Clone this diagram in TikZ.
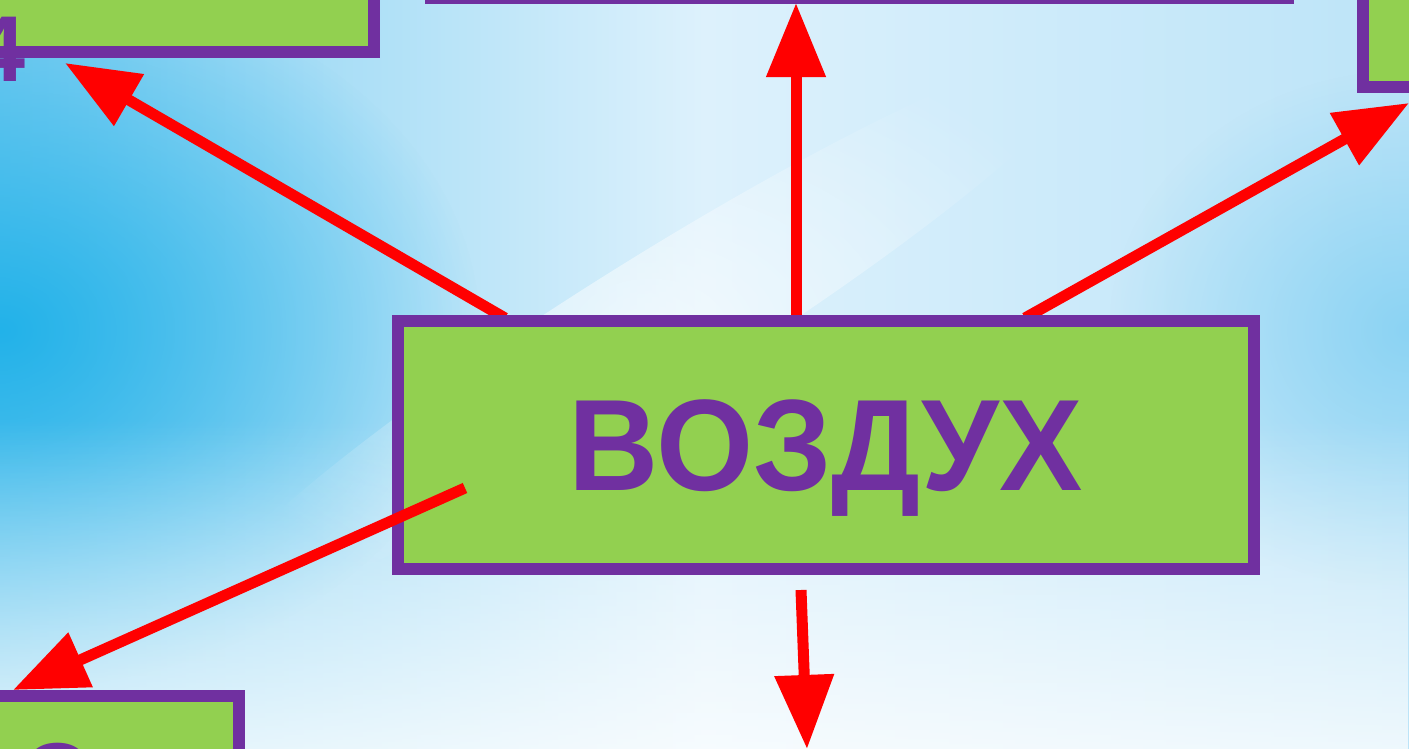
\documentclass[tikz,border=0pt]{standalone}
\usepackage{fontspec}
\setmainfont{Liberation Sans}
\usetikzlibrary{arrows.meta,fadings}
\definecolor{boxgreen}{HTML}{92D050}
\definecolor{boxpurple}{HTML}{7030A0}
\definecolor{skyleft}{HTML}{7ACDF1}
\definecolor{skymid}{HTML}{DDF1FC}
\definecolor{skyright}{HTML}{BCE4F8}
\definecolor{skydeep}{HTML}{22B2E9}
\definecolor{skyside}{HTML}{7FCFF2}
\tikzfading[name=blob fade, inner color=transparent!0, outer color=transparent!100]
\tikzfading[name=low fade, top color=transparent!100, bottom color=transparent!25]
\tikzset{
  box/.style={draw=boxpurple, fill=boxgreen, line width=0.12cm, inner sep=0pt},
  arr/.style={draw=red, line width=0.11cm, -{Triangle[length=0.74cm,width=0.57cm]}},
  lbl/.style={text=boxpurple, font=\fontsize{26.6}{32}\selectfont\bfseries, inner sep=0pt}
}
\begin{document}
\begin{tikzpicture}[x=0.01cm,y=-0.01cm]
  \useasboundingbox (0,0) rectangle (1409,749);
  \clip (0,0) rectangle (1409,749);
  % sky
  \shade[left color=skyleft, right color=skyright, middle color=skymid] (0,0) rectangle (1409,749);
  \fill[skydeep, path fading=blob fade] (0,330) ellipse [x radius=480, y radius=360];
  \fill[skyside, path fading=blob fade, opacity=.8] (1409,330) ellipse [x radius=300, y radius=260];
  \begin{scope}[rotate around={32:(650,330)}]
    \fill[white, path fading=blob fade, opacity=.6] (650,330) ellipse [x radius=520, y radius=70];
  \end{scope}
  \fill[white, path fading=low fade] (0,420) rectangle (1409,749);
  % the boxes at the edges
  \node[box, minimum width=8.56cm, minimum height=3cm, anchor=south west] (up) at (425,4) {};
  \node[box, minimum width=5cm, minimum height=2cm, anchor=south east] (upleft) at (380,58) {};
  \node[box, minimum width=3cm, minimum height=2cm, anchor=south west] (upright) at (1357,93) {};
  \node[box, minimum width=4cm, minimum height=2cm, anchor=north east] (downleft) at (245,690) {};
  \node[lbl, anchor=base east] (upleft text) at (26,82) {4};
  \node[lbl, anchor=base] (downleft text) at (58,808) {О};
  % arrows
  \coordinate (air nw) at (505,318);
  \coordinate (air n) at (796,318);
  \coordinate (air ne) at (1025,318);
  \coordinate (air sw) at (465,488);
  \coordinate (air s) at (801,590);
  \coordinate (upleft tip) at (65,63);
  \coordinate (up tip) at (796,3);
  \coordinate (upright tip) at (1409,103);
  \coordinate (downleft tip) at (13,690);
  \coordinate (down tip) at (807,749);
  \draw[arr] (air nw) -- (upleft tip);
  \draw[arr] (air n) -- (up tip);
  \draw[arr] (air ne) -- (upright tip);
  \draw[arr] (air s) -- (down tip);
  \node[box, minimum width=8.55cm, minimum height=2.48cm, text=boxpurple,
    font=\fontsize{37}{44}\selectfont\bfseries, text depth=0pt] (air) at (826,445) {\scalebox{.96}[1]{ВОЗДУХ}};
  \draw[arr] (air sw) -- (downleft tip);
\end{tikzpicture}
\end{document}
